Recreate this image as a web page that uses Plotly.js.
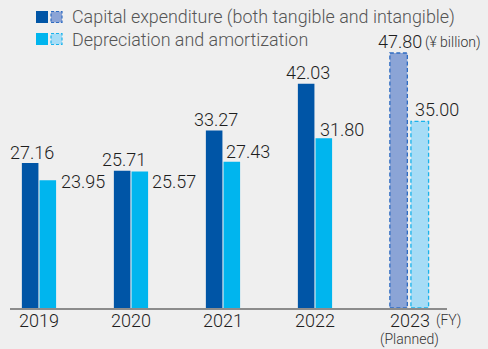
<!DOCTYPE html>
<html><head><meta charset="utf-8">
<script src="https://cdn.plot.ly/plotly-3.0.1.min.js"></script>
<style>html,body{margin:0;padding:0;background:#efefef;overflow:hidden}</style>
</head><body><div id="chart" style="width:488px;height:349px"></div>
<script>
// ---- data ----
const years = ['2019', '2020', '2021', '2022', '2023'];
const capex = [27.16, 25.71, 33.27, 42.03, 47.80];
const depreciation = [23.95, 25.57, 27.43, 31.80, 35.00];
const planned = [false, false, false, false, true];
const seriesNames = ['Capital expenditure (both tangible and intangible)', 'Depreciation and amortization'];
const unitLabel = '(¥ billion)';
const fyLabel = '(FY)';
const plannedLabel = '(Planned)';

// ---- style ----
const FONT = 'Roboto, "Liberation Sans", Arial, sans-serif';
const WEIGHT = 300;
const C_DARK = '#0055a6', C_DARK_P = '#8ba4d6', C_DARK_LINE = '#2f6cc2';
const C_LIGHT = '#00b5ee', C_LIGHT_P = '#a6dcf6', C_LIGHT_LINE = '#19b3ec';
const BG = '#efefef';
const W = 488, H = 349, ML = 10, MR = 41, MT = 0, MB = 41;
const PW = W - ML - MR, PH = H - MT - MB;
const px2x = p => (p - ML) / PW;
const py2y = p => (H - MB - p) / PH;

const darkOffset = years.map(() => -0.186);
const darkWidth = years.map((y, i) => planned[i] ? 0.19 : 0.18);
const lightOffset = years.map((y, i) => planned[i] ? 0.043 : 0.006);
const lightWidth = years.map((y, i) => planned[i] ? 0.192 : 0.18);

const traces = [
  { type: 'bar', x: years, y: capex, name: seriesNames[0], offset: darkOffset, width: darkWidth,
    marker: { color: years.map((y, i) => planned[i] ? C_DARK_P : C_DARK), line: { width: 0 } },
    hoverinfo: 'skip', showlegend: false },
  { type: 'bar', x: years, y: depreciation, name: seriesNames[1], offset: lightOffset, width: lightWidth,
    marker: { color: years.map((y, i) => planned[i] ? C_LIGHT_P : C_LIGHT), line: { width: 0 } },
    hoverinfo: 'skip', showlegend: false }
];

const shapes = [];
const annotations = [];

// dashed outlines of planned bars
years.forEach((y, i) => {
  if (!planned[i]) return;
  shapes.push({ type: 'rect', xref: 'x', yref: 'y', x0: i + darkOffset[i], x1: i + darkOffset[i] + darkWidth[i],
    y0: 0, y1: capex[i], line: { color: C_DARK_LINE, width: 1.3, dash: '4px,2.5px' }, fillcolor: 'rgba(0,0,0,0)' });
  shapes.push({ type: 'rect', xref: 'x', yref: 'y', x0: i + lightOffset[i], x1: i + lightOffset[i] + lightWidth[i],
    y0: 0, y1: depreciation[i], line: { color: C_LIGHT_LINE, width: 1.3, dash: '4px,2.5px' }, fillcolor: 'rgba(0,0,0,0)' });
});

// legend swatches
function swatch(x0, y0, x1, y1, fill, line) {
  shapes.push({ type: 'rect', xref: 'paper', yref: 'paper', x0: px2x(x0), x1: px2x(x1), y0: py2y(y1), y1: py2y(y0),
    fillcolor: fill, line: line ? { color: line, width: 1.2, dash: '3px,2px' } : { width: 0 } });
}
swatch(36, 11, 48, 23, C_DARK, null);
swatch(51, 11.5, 62, 22.5, C_DARK_P, C_DARK_LINE);
swatch(36, 33, 48, 45, C_LIGHT, null);
swatch(51, 33.5, 62, 44.5, C_LIGHT_P, C_LIGHT_LINE);

const legendY = [17, 39];
seriesNames.forEach((n, k) => {
  annotations.push({ xref: 'paper', yref: 'paper', x: px2x(71.5), y: py2y(legendY[k]), xanchor: 'left', yanchor: 'middle',
    text: n, showarrow: false, font: { family: FONT, size: 17.9, color: '#555555', weight: WEIGHT }, borderpad: 0, borderwidth: 0 });
});

// value labels
const valFont = { family: FONT, size: 18, color: '#1e1e1e', weight: WEIGHT };
years.forEach((y, i) => {
  annotations.push({ xref: 'x', yref: 'y', x: i, y: capex[i], xanchor: 'center', yanchor: 'middle',
    xshift: -7, yshift: 11, text: capex[i].toFixed(2), showarrow: false, font: valFont, borderpad: 0, borderwidth: 0 });
});
const lightDx = [22.5, 21.5, 3.5, 4.8, 8.3];
const lightDy = [-1.5, -9.9, 10.2, 9, 11.3];
years.forEach((y, i) => {
  annotations.push({ xref: 'x', yref: 'y', x: i, y: depreciation[i], xanchor: 'left', yanchor: 'middle',
    xshift: lightDx[i], yshift: lightDy[i], text: depreciation[i].toFixed(2), showarrow: false, font: valFont,
    borderpad: 0, borderwidth: 0 });
});

// year labels
years.forEach((y, i) => {
  annotations.push({ xref: 'x', yref: 'paper', x: i, y: 0, xanchor: 'center', yanchor: 'middle',
    xshift: planned[i] ? 3 : 0, yshift: -12, text: y, showarrow: false,
    font: { family: FONT, size: 18, color: '#1e1e1e', weight: WEIGHT }, borderpad: 0, borderwidth: 0 });
});
const last = years.length - 1;
const smallFont = { family: FONT, size: 14, color: '#333333', weight: WEIGHT };
annotations.push({ xref: 'x', yref: 'paper', x: last, y: 0, xanchor: 'left', yanchor: 'middle', xshift: 28.7, yshift: -12.5,
  text: fyLabel, showarrow: false, font: smallFont, borderpad: 0, borderwidth: 0 });
annotations.push({ xref: 'x', yref: 'paper', x: last, y: 0, xanchor: 'center', yanchor: 'middle', xshift: 3, yshift: -31.5,
  text: plannedLabel, showarrow: false, font: smallFont, borderpad: 0, borderwidth: 0 });
annotations.push({ xref: 'paper', yref: 'paper', x: px2x(424.5), y: py2y(42.5), xanchor: 'left', yanchor: 'middle',
  text: unitLabel, showarrow: false, font: { family: FONT, size: 14, color: '#333333', weight: WEIGHT }, borderpad: 0, borderwidth: 0 });

const layout = {
  width: W, height: H,
  margin: { l: ML, r: MR, t: MT, b: MB, pad: 0 },
  paper_bgcolor: BG, plot_bgcolor: BG,
  showlegend: false,
  xaxis: { type: 'category', categoryorder: 'array', categoryarray: years, range: [-0.315, 4.435],
    showticklabels: false, ticks: '', showgrid: false, zeroline: false,
    showline: true, linecolor: '#8c8c8c', linewidth: 1.5, fixedrange: true },
  yaxis: { range: [0, PH / 5.335], visible: false, showgrid: false, zeroline: false, fixedrange: true },
  shapes: shapes,
  annotations: annotations,
  font: { family: FONT }
};

Plotly.newPlot('chart', traces, layout, { staticPlot: true, displayModeBar: false });
</script>
</body></html>
